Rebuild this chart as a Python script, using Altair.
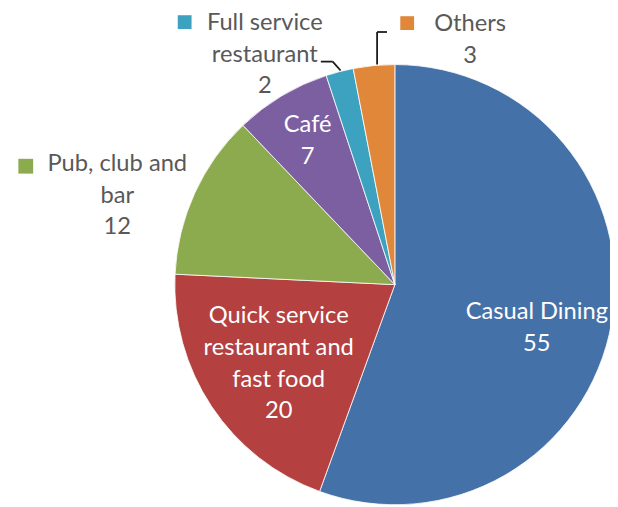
import json
import altair as alt
import pandas as pd

# ---- data ----
categories = ["Casual Dining", "Quick service restaurant and fast food",
              "Pub, club and bar", "Café", "Full service restaurant", "Others"]
values = [55, 20, 12, 7, 2, 3]
wrapped = ["Casual Dining", "Quick service\nrestaurant and\nfast food",
           "Pub, club and\nbar", "Café", "Full service\nrestaurant", "Others"]
colors = ["#4571A9", "#B4413F", "#8CAB4E", "#7C5FA1", "#3DA2BF", "#E0873A"]

df = pd.DataFrame({
    "category": categories,
    "value": values,
    "order": list(range(len(categories))),
    "label": [w + "\n" + str(v) for w, v in zip(wrapped, values)],
})

CX, CY, R = 392, 277, 223
FONT = "Lato"
FS = 24
LH = 32

color_scale = alt.Scale(domain=categories, range=colors)
base = alt.Chart(df)

arcs = base.mark_arc(radius=R, stroke="white", strokeWidth=0.8).encode(
    theta=alt.Theta("value:Q", stack=True),
    order=alt.Order("order:Q"),
    color=alt.Color("category:N", scale=color_scale, legend=None),
    x=alt.value(CX), y=alt.value(CY),
)


def label_layer(cat, nlines, r, dx, dy, col):
    expr = "datum.category === %s ? datum.label : ''" % json.dumps(cat)
    return base.transform_calculate(t=expr).mark_text(
        radius=r, dx=dx, dy=dy - (nlines - 1) * LH / 2, align="center",
        baseline="middle", lineBreak="\n", font=FONT, fontSize=FS,
        lineHeight=LH, color=col,
    ).encode(
        theta=alt.Theta("value:Q", stack=True),
        order=alt.Order("order:Q"),
        text=alt.Text("t:N"),
        x=alt.value(CX), y=alt.value(CY),
    )


inside = "#FFFFFF"
outside = "#595959"
labels = [
    label_layer("Casual Dining", 2, 144, 2, 19, inside),
    label_layer("Quick service restaurant and fast food", 4, 145, 3, 0, inside),
    label_layer("Café", 2, 172, 0, 2, inside),
    label_layer("Pub, club and bar", 3, 296, -12, 33, outside),
    label_layer("Full service restaurant", 3, 250, -69, 9, outside),
    label_layer("Others", 2, 250, 100, 1, outside),
]


def key(cat, x, y, s):
    return base.transform_filter(alt.datum.category == cat).mark_square(
        size=s * s, filled=True, opacity=1, strokeWidth=0
    ).encode(
        color=alt.Color("category:N", scale=color_scale, legend=None),
        x=alt.value(x), y=alt.value(y),
    )


keys = [
    key("Pub, club and bar", 18, 157, 15),
    key("Full service restaurant", 179, 11, 14),
    key("Others", 404.5, 12, 14),
]

one = alt.Chart(pd.DataFrame({"a": [0]}))


def seg(x1, y1, x2, y2):
    return one.mark_rule(color="#1a1a1a", strokeWidth=1.8).encode(
        x=alt.value(x1), y=alt.value(y1), x2=alt.value(x2), y2=alt.value(y2)
    )


leaders = [
    seg(374, 21, 374, 54),
    seg(374, 21, 384, 21),
    seg(317, 51, 329, 51),
    seg(329, 51, 337, 60),
]

chart = alt.layer(arcs, *labels, *keys, *leaders).properties(
    width=610, height=499, padding=0,
    autosize=alt.AutoSizeParams(type="none"),
).configure_view(stroke=None)

chart.save("out.html", embed_options={"renderer": "svg", "actions": False})
